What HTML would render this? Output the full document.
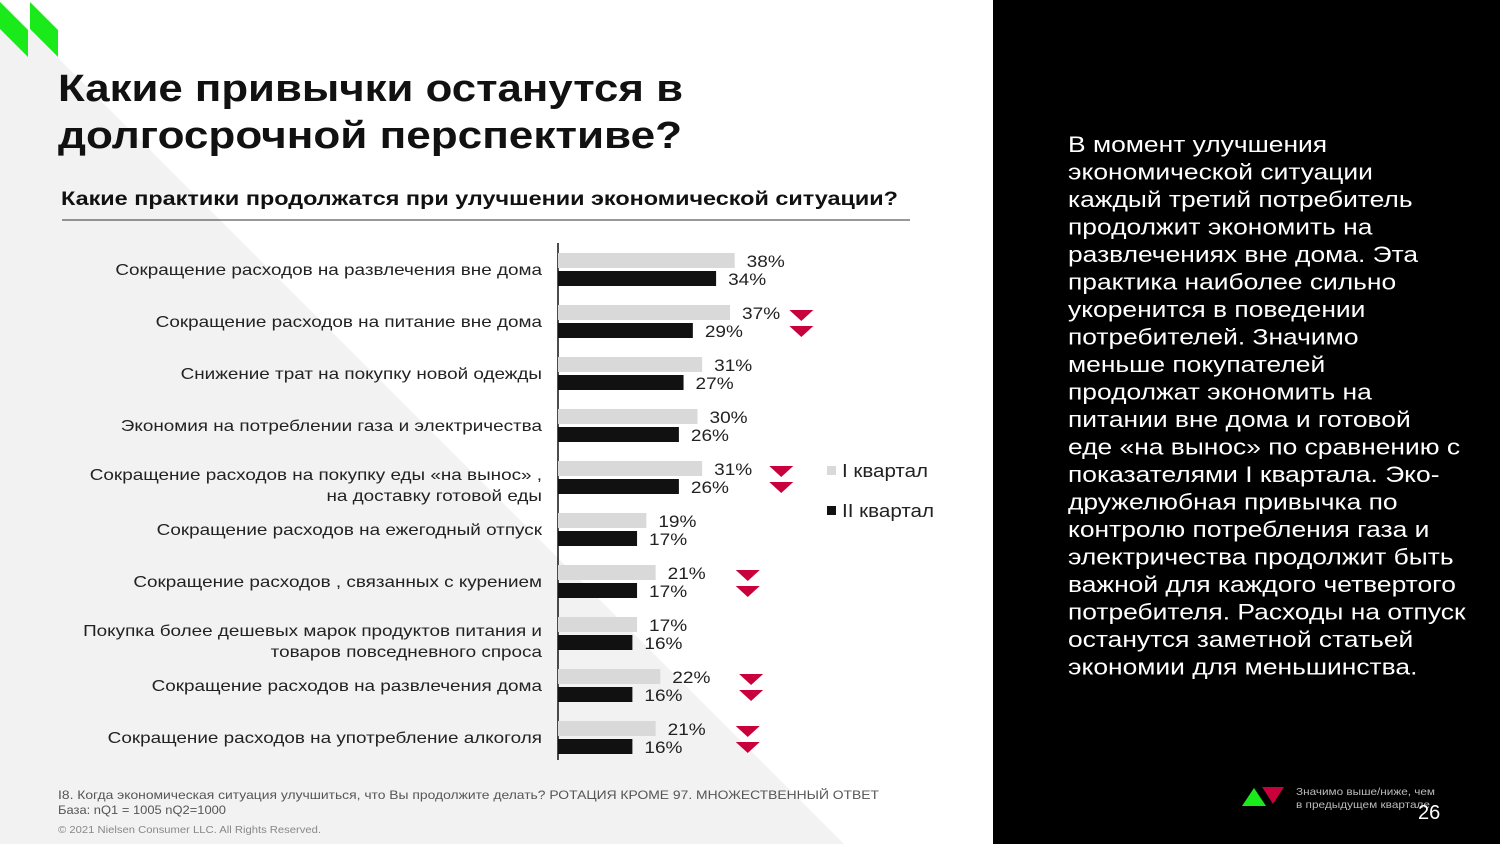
<!DOCTYPE html>
<html><head><meta charset="utf-8"><style>
body{margin:0;width:1500px;height:844px;overflow:hidden;background:#fff;font-family:"Liberation Sans",sans-serif}
svg{display:block}
</style></head><body>
<svg width="1500" height="844" viewBox="0 0 1500 844">
<polygon points="0,0 844,844 0,844" fill="#f2f2f2"/>
<rect x="993" y="0" width="507" height="844" fill="#000"/>
<g fill="#1aea1a">
<polygon points="0,2 28,30 28,57 0,29"/>
<polygon points="30,2 58,30 58,57 30,29"/>
</g>
<text x="58" y="101" font-size="38" font-weight="bold" fill="#111" textLength="625" lengthAdjust="spacingAndGlyphs">Какие привычки останутся в</text>
<text x="58" y="148" font-size="38" font-weight="bold" fill="#111" textLength="624" lengthAdjust="spacingAndGlyphs">долгосрочной перспективе?</text>
<text x="61" y="205" font-size="19.5" font-weight="bold" fill="#111" textLength="837" lengthAdjust="spacingAndGlyphs">Какие практики продолжатся при улучшении экономической ситуации?</text>
<line x1="62" y1="220" x2="910" y2="220" stroke="#333" stroke-width="1"/>
<g id="chart"></g>
<g>
<rect x="827" y="466" width="9" height="9" fill="#d9d9d9"/>
<text x="842" y="477" font-size="18" fill="#222" textLength="86" lengthAdjust="spacingAndGlyphs">I квартал</text>
<rect x="827" y="506" width="9" height="9" fill="#111"/>
<text x="842" y="517" font-size="18" fill="#222" textLength="92" lengthAdjust="spacingAndGlyphs">II квартал</text>
</g>
<g font-size="12" fill="#555">
<text x="58" y="799" textLength="821" lengthAdjust="spacingAndGlyphs">I8.  Когда экономическая ситуация улучшиться, что Вы продолжите делать? РОТАЦИЯ КРОМЕ 97. МНОЖЕСТВЕННЫЙ ОТВЕТ</text>
<text x="58" y="814" textLength="168" lengthAdjust="spacingAndGlyphs">База:  nQ1 = 1005 nQ2=1000</text>
<text x="58" y="833" font-size="10.5" fill="#888" textLength="263" lengthAdjust="spacingAndGlyphs">© 2021 Nielsen Consumer LLC. All Rights Reserved.</text>
</g>
<g id="commentary" font-size="22" fill="#fff"></g>
<g>
<polygon points="1242,806 1254,788 1266,806" fill="#1aea1a"/>
<polygon points="1262,787 1284,787 1273,804" fill="#c8003c"/>
<text x="1296" y="795" font-size="10.5" fill="#bbb" textLength="139" lengthAdjust="spacingAndGlyphs">Значимо выше/ниже, чем</text>
<text x="1296" y="808" font-size="10.5" fill="#bbb" textLength="134" lengthAdjust="spacingAndGlyphs">в предыдущем квартале</text>
</g>
<text x="1418" y="819" font-size="20" fill="#fff">26</text>
</svg>
<script>
const categories=[["Сокращение расходов на развлечения вне дома"],["Сокращение расходов на питание вне дома"],["Снижение  трат на покупку новой одежды"],["Экономия на потреблении газа и электричества"],["Сокращение расходов на покупку еды «на вынос» ,","на доставку готовой еды"],["Сокращение расходов на ежегодный отпуск"],["Сокращение расходов , связанных с курением"],["Покупка более дешевых марок продуктов питания и","товаров повседневного спроса"],["Сокращение расходов на развлечения дома"],["Сокращение расходов на употребление алкоголя"]];
const q1Values=[38,37,31,30,31,19,21,17,22,21];
const q2Values=[34,29,27,26,26,17,17,16,16,16];
const significantDrop=[false,true,false,false,true,false,true,false,true,true];
const NS="http://www.w3.org/2000/svg";
const x0=558,pxPer=4.65,rowTop=253,rowStep=52;
const xScale=v=>x0+v*pxPer;
const g=document.getElementById('chart');
function mk(tag,attrs,parent){const e=document.createElementNS(NS,tag);for(const k in attrs)e.setAttribute(k,attrs[k]);(parent||g).appendChild(e);return e;}
function stretch(el,f){const w=el.getComputedTextLength();el.setAttribute('textLength',(w*f).toFixed(1));el.setAttribute('lengthAdjust','spacingAndGlyphs');}
const ax=mk('line',{x1:x0,y1:243,x2:x0,y2:760,stroke:'#111','stroke-width':1.5});


categories.forEach((lab,i)=>{
  const y=rowTop+i*rowStep;
  const ys=lab.length===1?[y+22]:[y+19,y+40];
  lab.forEach((l,j)=>{
    const t=mk('text',{x:542,y:ys[j],'text-anchor':'end','font-size':16,fill:'#222'});
    
    
    t.textContent=l;stretch(t,1.18);
  });
  const b1=mk('rect',{x:x0,y:y,width:xScale(q1Values[i])-x0,height:15,fill:'#d9d9d9'});
  
  
  const b2=mk('rect',{x:x0,y:y+18,width:xScale(q2Values[i])-x0,height:15,fill:'#111'});
  
  
  const l1=mk('text',{x:xScale(q1Values[i])+12,y:y+14,'font-size':17,fill:'#222'});l1.textContent=q1Values[i]+'%';
  
  
  stretch(l1,1.12);
  const l2=mk('text',{x:xScale(q2Values[i])+12,y:y+32,'font-size':17,fill:'#222'});l2.textContent=q2Values[i]+'%';
  
  
  stretch(l2,1.12);
  if(significantDrop[i]){
    const tx=xScale(q1Values[i])+70+(38-q1Values[i])*1.3;
    [y+5,y+21].forEach(ty=>{
      const p=mk('polygon',{points:`${tx-12},${ty} ${tx+12},${ty} ${tx},${ty+11}`,fill:'#c8003c'});
      
      
    });
  }
});
const lines=["В момент улучшения","экономической ситуации","каждый третий потребитель","продолжит экономить на","развлечениях вне дома. Эта","практика наиболее сильно","укоренится в поведении","потребителей. Значимо","меньше покупателей","продолжат экономить на","питании вне дома и готовой","еде «на вынос» по сравнению с","показателями I квартала. Эко-","дружелюбная привычка по","контролю потребления газа и","электричества продолжит быть","важной для каждого четвертого","потребителя. Расходы на отпуск","останутся заметной статьей","экономии для меньшинства."];
const cg=document.getElementById('commentary');
lines.forEach((l,i)=>{const t=mk('text',{x:1068,y:152+i*27.5},cg);t.textContent=l;stretch(t,1.2);});
</script>
</body></html>
